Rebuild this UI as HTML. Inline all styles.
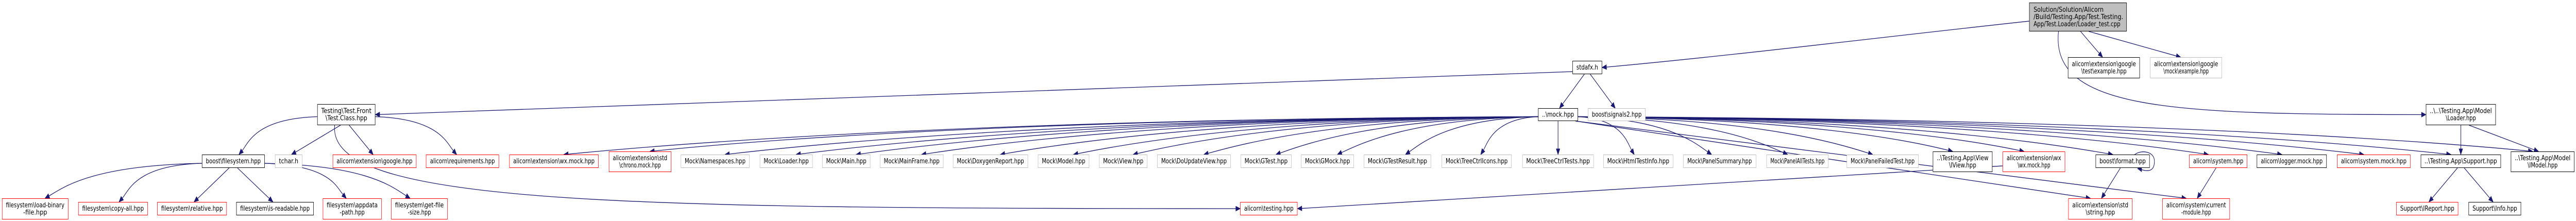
<!DOCTYPE html>
<html><head><meta charset="utf-8"><style>
html,body{margin:0;padding:0;background:#fff;width:100%;height:100%;overflow:hidden;}
svg{display:block;position:fixed;left:0;top:0;width:100vw;height:100vh;}
text{font-family:"DejaVu Sans","Liberation Sans",sans-serif;font-size:13px;fill:#000;}
</style></head><body>
<svg id="g" viewBox="0 0 6520 429" preserveAspectRatio="none" xmlns="http://www.w3.org/2000/svg"></svg>
<script>
const nodeIds = ["root","tclass","stdafx","mock","signals2","gtestex","gmockex","loader",
"bfs","tchar","google","req","wxmock1","chrono",
"mNamespaces","mLoader","mMain","mMainFrame","mDoxygen","mModel","mView","mDoUpdate","mGTest","mGMock","mGTestResult","mTreeIcons","mTreeTests","mHtml","mPanelSummary","mPanelAll","mPanelFailed",
"iview","wxmock2","format","system","loggermock","sysmock","support","imodel",
"lbf","copyall","relative","isread","appdata","getfs","testing","string","curmod","ireport","info"];
const nodeX1 = [5136,803,3980,3893,4019,5234,5442,6140, 511,696,842,1078,1289,1541, 1723,1923,2081,2227,2412,2627,2782,2929,3140,3293,3452,3649,3853,4058,4260,4471,4674, 4892,5069,5304,5541,5712,5915,6127,6355, 5,198,398,598,817,990,3139,5235,5473,6065,6248];
const nodeX2 = [5383,950,4055,3994,4165,5416,5624,6317, 670,765,1054,1263,1515,1699, 1897,2057,2203,2388,2602,2757,2904,3115,3269,3427,3622,3826,4034,4235,4445,4628,4856, 5043,5227,5441,5688,5889,6101,6330,6516, 173,374,574,794,966,1133,3284,5397,5644,6222,6381];
const nodeKind = ["root","black","black","black","gray","black","gray","black",
"black","gray","red","red","red","red",
"gray","gray","gray","gray","gray","gray","gray","gray","gray","gray","gray","gray","gray","gray","gray","gray","gray",
"black","red","black","red","black","red","black","black",
"red","red","red","black","red","red","red","red","red","red","black"];
const nodeLabels = [
["Solution/Solution/Alicorn","/Build/Testing.App/Test.Testing.","App/Test.Loader/Loader_test.cpp"],
["Testing\\Test.Front","\\Test.Class.hpp"],["stdafx.h"],["..\\mock.hpp"],["boost\\signals2.hpp"],
["alicorn\\extension\\google","\\test\\example.hpp"],["alicorn\\extension\\google","\\mock\\example.hpp"],
["..\\..\\Testing.App\\Model","\\Loader.hpp"],
["boost\\filesystem.hpp"],["tchar.h"],["alicorn\\extension\\google.hpp"],["alicorn\\requirements.hpp"],["alicorn\\extension\\wx.mock.hpp"],["alicorn\\extension\\std","\\chrono.mock.hpp"],
["Mock\\Namespaces.hpp"],["Mock\\Loader.hpp"],["Mock\\Main.hpp"],["Mock\\MainFrame.hpp"],["Mock\\DoxygenReport.hpp"],["Mock\\Model.hpp"],["Mock\\View.hpp"],["Mock\\DoUpdateView.hpp"],["Mock\\GTest.hpp"],["Mock\\GMock.hpp"],["Mock\\GTestResult.hpp"],["Mock\\TreeCtrlIcons.hpp"],["Mock\\TreeCtrlTests.hpp"],["Mock\\HtmlTestInfo.hpp"],["Mock\\PanelSummary.hpp"],["Mock\\PanelAllTests.hpp"],["Mock\\PanelFailedTest.hpp"],
["..\\Testing.App\\View","\\IView.hpp"],["alicorn\\extension\\wx","\\wx.mock.hpp"],["boost\\format.hpp"],["alicorn\\system.hpp"],["alicorn\\logger.mock.hpp"],["alicorn\\system.mock.hpp"],["..\\Testing.App\\Support.hpp"],["..\\Testing.App\\Model","\\IModel.hpp"],
["filesystem\\load-binary","-file.hpp"],["filesystem\\copy-all.hpp"],["filesystem\\relative.hpp"],["filesystem\\is-readable.hpp"],["filesystem\\appdata","-path.hpp"],["filesystem\\get-file","-size.hpp"],["alicorn\\testing.hpp"],["alicorn\\extension\\std","\\string.hpp"],["alicorn\\system\\current","-module.hpp"],["Support\\IReport.hpp"],["Support\\Info.hpp"]
];
const edgeFrom = ["root","root","root","root","stdafx","stdafx","stdafx","tclass","tclass","tclass","tclass","tclass",
"bfs","bfs","bfs","bfs","bfs","bfs",
"mock","mock","mock","mock","mock","mock","mock","mock","mock","mock","mock","mock","mock","mock","mock","mock","mock","mock","mock",
"mock","mock","mock","mock","mock","mock","mock","mock","mock","mock",
"wxmock2","format","system","support","support","loader","loader"];
const edgeTo = ["stdafx","gtestex","gmockex","loader","tclass","mock","signals2","bfs","tchar","google","req","testing",
"lbf","copyall","relative","isread","appdata","getfs",
"chrono","wxmock1","mNamespaces","mLoader","mMain","mMainFrame","mDoxygen","mModel","mView","mDoUpdate","mGTest","mGMock","mGTestResult","mTreeIcons","mTreeTests","mHtml","mPanelSummary","mPanelAll","mPanelFailed",
"iview","wxmock2","format","system","loggermock","sysmock","support","imodel","string","curmod",
"testing","string","curmod","ireport","info","support","imodel"];
const edgeEnd = ["right","top","top","left","right","top","top","top","top","top","top","left",
"top","top","top","top","top","top",
"top","top","top","top","top","top","top","top","top","top","top","top","top","top","top","top","top","top","top",
"top","top","top","top","top","top","top","top","top","top",
"right","top","top","top","top","top","top"];

const NS="http://www.w3.org/2000/svg";
const svg=document.getElementById('g');
const edgeLayer=document.createElementNS(NS,'g');


svg.appendChild(edgeLayer);
const nodeLayer=document.createElementNS(NS,'g');


svg.appendChild(nodeLayer);

function box(id){
  const i=nodeIds.indexOf(id);
  const two=nodeLabels[i].length>=2;
  let y1,y2;
  if(id==="root"){y1=5;y2=61;}
  else if(id==="stdafx"){y1=118;y2=144;}
  else if(id==="mock"||id==="signals2"){y1=210;y2=235;}
  else if(id==="tclass"||id==="loader"){y1=202;y2=243;}
  else if(id==="gtestex"||id==="gmockex"){y1=111;y2=152;}
  else if(["lbf","copyall","relative","isread","appdata","getfs","testing","string","curmod","ireport","info"].includes(id)){
    if(two){y1=385;y2=426;}else{y1=392;y2=418;}
  } else { if(two){y1=294;y2=334;}else{y1=300;y2=326;} }
  return {x1:nodeX1[i],x2:nodeX2[i],y1:y1,y2:y2,kind:nodeKind[i],lines:nodeLabels[i]};
}

const C="#191970";
for(let k=0;k<edgeFrom.length;k++){
  const s=box(edgeFrom[k]), t=box(edgeTo[k]), mode=edgeEnd[k];
  const scx=(s.x1+s.x2)/2, tcx=(t.x1+t.x2)/2;
  let sx,sy,ex,ey,c1x,c1y,c2x,c2y;
  if(mode==="top"){
    ex=tcx+Math.max(-25,Math.min(25,(scx-tcx)*0.05)); ey=t.y1;
    const dx=tcx-scx;
    if(Math.abs(dx)>(s.x2-s.x1)*1.5 && t.y1-s.y2<120){
      sx=dx<0?s.x1:s.x2; sy=(s.y1+s.y2)/2+4;
      c1x=sx+dx*0.55; c1y=sy+4; c2x=ex+(sx-ex)*0.12; c2y=ey-22;
    } else {
      sx=scx+Math.max(-(s.x2-s.x1)/2+6,Math.min((s.x2-s.x1)/2-6,dx*0.1)); sy=s.y2;
      c1x=sx+(ex-sx)*0.3; c1y=sy+(ey-sy)*0.3; c2x=sx+(ex-sx)*0.7; c2y=sy+(ey-sy)*0.7;
    }
  } else if(mode==="left"){
    ex=t.x1; ey=(t.y1+t.y2)/2;
    sx=s.x1+(s.x2-s.x1)*0.3; sy=s.y2;
    c1x=sx-20; c1y=ey-10; c2x=sx+(ex-sx)*0.3; c2y=ey;
  } else {
    ex=t.x2; ey=(t.y1+t.y2)/2;
    sx=s.x1; sy=(s.y1+s.y2)/2+(ey>s.y2?8:0);
    c1x=sx+(ex-sx)*0.35; c1y=sy+(ey-sy)*0.35; c2x=sx+(ex-sx)*0.7; c2y=sy+(ey-sy)*0.75;
  }
  const ang=Math.atan2(ey-c2y,ex-c2x);
  const L=11,W=4.5;
  const bx=ex-L*Math.cos(ang), by=ey-L*Math.sin(ang);
  const p=document.createElementNS(NS,'path');
  p.setAttribute('d',`M${sx},${sy} C${c1x},${c1y} ${c2x},${c2y} ${bx},${by}`);
  p.setAttribute('fill','none');p.setAttribute('stroke',C);p.setAttribute('stroke-width','1.3');
  
  
  edgeLayer.appendChild(p);
  const a=document.createElementNS(NS,'polygon');
  const px=-Math.sin(ang),py=Math.cos(ang);
  a.setAttribute('points',`${ex},${ey} ${bx+px*W},${by+py*W} ${bx-px*W},${by-py*W}`);
  a.setAttribute('fill',C);a.setAttribute('stroke',C);
  
  
  edgeLayer.appendChild(a);
}
{
  const f=box("format");
  const p=document.createElementNS(NS,'path');
  p.setAttribute('d',`M${f.x2-38},${f.y1} C${f.x2-20},${f.y1-10} ${f.x2+12},${f.y1-6} ${f.x2+12},${(f.y1+f.y2)/2} C${f.x2+12},${f.y2+10} ${f.x2-10},${f.y2+6} ${f.x2-22},${f.y2+3}`);
  p.setAttribute('fill','none');p.setAttribute('stroke',C);p.setAttribute('stroke-width','1.3');
  
  
  edgeLayer.appendChild(p);
  const a=document.createElementNS(NS,'polygon');
  a.setAttribute('points',`${f.x2-32},${f.y2+1} ${f.x2-20},${f.y2-2} ${f.x2-20},${f.y2+8}`);
  a.setAttribute('fill',C);
  
  
  edgeLayer.appendChild(a);
}

const stroke={black:"#000",red:"#ff0000",gray:"#bfbfbf",root:"#000"};
for(const id of nodeIds){
  const b=box(id);
  const g=document.createElementNS(NS,'g');
  
  
  const r=document.createElementNS(NS,'rect');
  r.setAttribute('x',b.x1+0.5);r.setAttribute('y',b.y1+0.5);
  r.setAttribute('width',b.x2-b.x1-1);r.setAttribute('height',b.y2-b.y1-1);
  r.setAttribute('fill',b.kind==="root"?"#bfbfbf":"#fff");
  r.setAttribute('stroke',stroke[b.kind]);r.setAttribute('stroke-width','1');
  
  
  g.appendChild(r);
  nodeLayer.appendChild(g);
  const n=b.lines.length, lh=14;
  const top=(b.y1+b.y2)/2-(n*lh)/2;
  const maxLen=Math.max(...b.lines.map(s=>s.length));
  const avail=(b.x2-b.x1)-20;
  b.lines.forEach((ln,j)=>{
    const t=document.createElementNS(NS,'text');
    const y=top+lh*j+11;
    if(b.kind==="root"){t.setAttribute('x',b.x1+11);}
    else {t.setAttribute('x',(b.x1+b.x2)/2);t.setAttribute('text-anchor','middle');}
    t.setAttribute('y',y);
    t.textContent=ln;
    
    
    g.appendChild(t);
    const want=avail*ln.length/maxLen;
    const nat=t.getComputedTextLength();
    if(nat>0 && Math.abs(nat-want)>2){
      t.setAttribute('textLength',want);
      t.setAttribute('lengthAdjust','spacingAndGlyphs');
    }
  });
}
</script>
</body></html>
